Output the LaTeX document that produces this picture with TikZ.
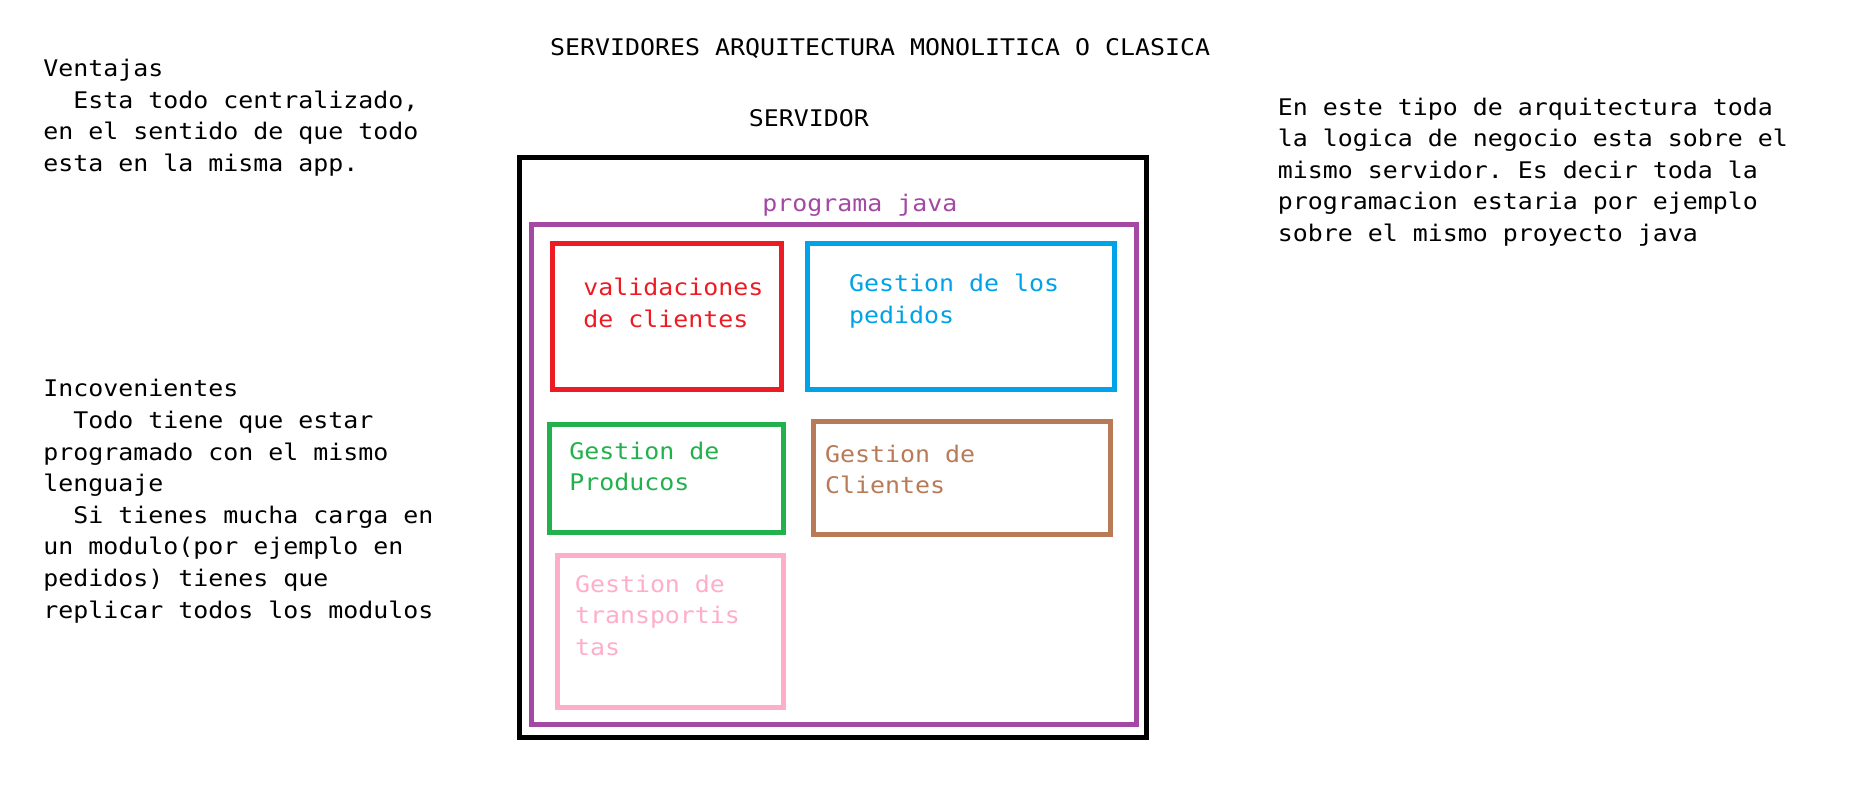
\documentclass[tikz,border=0pt]{standalone}
\usepackage{fontspec}
\newfontfamily\fmono[FakeStretch=1.088]{DejaVu Sans Mono}
\usetikzlibrary{fit}
\definecolor{ppurple}{HTML}{A349A4}
\definecolor{pred}{HTML}{ED1C24}
\definecolor{pblue}{HTML}{00A2E8}
\definecolor{pgreen}{HTML}{22B14C}
\definecolor{pbrown}{HTML}{B97A57}
\definecolor{ppink}{HTML}{FFAEC9}
\frenchspacing
\begin{document}
% text nodes are anchored at the baseline of their LAST line
\begin{tikzpicture}[x=1pt,y=-1pt,
  frame/.style={draw=#1, line width=5pt, inner sep=0pt, outer sep=0pt},
  txt/.style={inner sep=0pt, outer sep=0pt, align=left, anchor=base west,
    font=\fmono\frenchspacing\fontsize{22.9}{31.6}\selectfont},
  modtxt/.style={txt, text=#1, font=\fmono\frenchspacing\fontsize{22.9}{31.4}\selectfont}]
\fill[white] (0,0) rectangle (1853,802);
\useasboundingbox (0,0) rectangle (1853,802);

% titles
\node[txt] (title) at (550.1,55.7) {SERVIDORES ARQUITECTURA MONOLITICA O CLASICA};
\node[txt] (servidor) at (748.8,126.7) {SERVIDOR};

% side texts
\node[txt] (ventajas) at (43.3,171.6)
  {Ventajas\\~~Esta todo centralizado,\\en el sentido de que todo\\esta en la misma app.};
\node[txt] (incov) at (43.3,618)
  {Incovenientes\\~~Todo tiene que estar\\programado con el mismo\\lenguaje\\~~Si tienes mucha carga en\\un modulo(por ejemplo en\\pedidos) tienes que\\replicar todos los modulos};
\node[txt] (desc) at (1277.9,241.6)
  {En este tipo de arquitectura toda\\la logica de negocio esta sobre el\\mismo servidor. Es decir toda la\\programacion estaria por ejemplo\\sobre el mismo proyecto java};

% frames
\node[frame=black, fit={(519,158) (1146,737.5)}] (srv) {};
\node[frame=ppurple, fit={(531,224.7) (1136.2,724.7)}] (java) {};
\node[modtxt=ppurple] (javalbl) at (762.4,211.7) {programa java};

\node[frame=pred, fit={(552.5,243.8) (781.2,389)}] (val) {};
\node[modtxt=pred] (valt) at (583.3,327.3) {validaciones\\de clientes};

\node[frame=pblue, fit={(807.5,244) (1114,389)}] (ped) {};
\node[modtxt=pblue] (pedt) at (849.1,323.3) {Gestion de los\\pedidos};

\node[frame=pgreen, fit={(549.2,424.5) (783.8,532.5)}] (prod) {};
\node[modtxt=pgreen] (prodt) at (569.4,490.7) {Gestion de\\Producos};

\node[frame=pbrown, fit={(813.7,421.7) (1110.8,534.3)}] (cli) {};
\node[modtxt=pbrown] (clit) at (825.2,493.7) {Gestion de\\Clientes};

\node[frame=ppink, fit={(557,555.5) (783,707)}] (trans) {};
\node[modtxt=ppink] (transt) at (575,655) {Gestion de\\transportis\\tas};
\end{tikzpicture}
\end{document}
